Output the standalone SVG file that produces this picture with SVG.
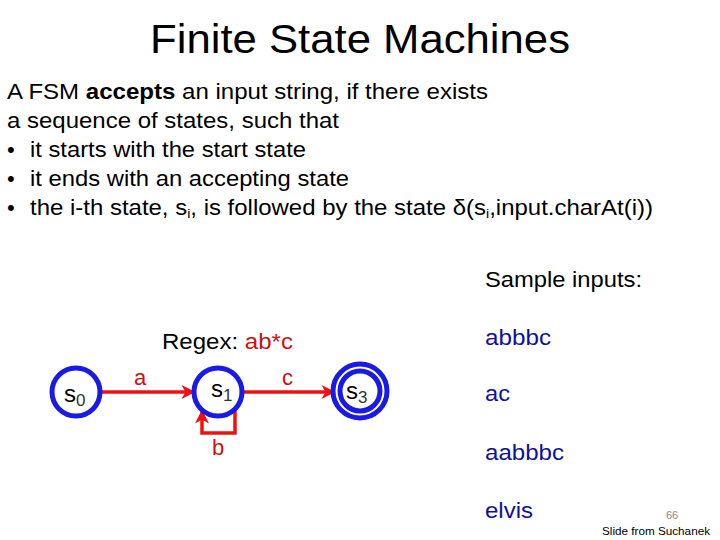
<svg xmlns="http://www.w3.org/2000/svg" width="720" height="540" viewBox="0 0 720 540">
<style>
text{font-family:"Liberation Sans",Arial,sans-serif;fill:#000}
.body{font-size:22px}
.red{fill:#cc1111}
.lbl{font-size:22px;fill:#cc1111}
.inp{font-size:22px;fill:#10109a}
.st{fill:#fff;stroke:#1a1ae6;stroke-width:5}
.sn{font-size:24px}
.sub{font-size:17px;fill:#333}
.edge{stroke:#ee1111;stroke-width:3.5;fill:none}
</style>
<defs>
<marker id="ah" viewBox="0 0 10 10" refX="9" refY="5" markerWidth="4" markerHeight="4" orient="auto" markerUnits="strokeWidth">
<path d="M0,0 L10,5 L0,10 L3,5 z" fill="#ee1111"/>
</marker>
</defs>
<rect width="720" height="540" fill="#fff"/>
<text x="150" y="53" font-size="41" textLength="420" lengthAdjust="spacingAndGlyphs">Finite State Machines</text>
<text class="body" x="7" y="99" textLength="481" lengthAdjust="spacingAndGlyphs">A FSM <tspan font-weight="bold">accepts</tspan> an input string, if there exists</text>
<text class="body" x="7" y="128" textLength="332" lengthAdjust="spacingAndGlyphs">a sequence of states, such that</text>
<text class="body" x="7" y="157">•</text>
<text class="body" x="30" y="157" textLength="276" lengthAdjust="spacingAndGlyphs">it starts with the start state</text>
<text class="body" x="7" y="186">•</text>
<text class="body" x="30" y="186" textLength="319" lengthAdjust="spacingAndGlyphs">it ends with an accepting state</text>
<text class="body" x="7" y="215">•</text>
<text class="body" x="30" y="215" textLength="623" lengthAdjust="spacingAndGlyphs">the i-th state, s<tspan font-size="13" dy="3">i</tspan><tspan dy="-3">, is followed by the state δ(s</tspan><tspan font-size="13" dy="3">i</tspan><tspan dy="-3">,input.charAt(i))</tspan></text>
<text class="body" x="485" y="287" textLength="157" lengthAdjust="spacingAndGlyphs">Sample inputs:</text>
<text class="body" x="162" y="349" textLength="131" lengthAdjust="spacingAndGlyphs">Regex: <tspan class="red">ab*c</tspan></text>
<g id="inputs">
<text class="inp" x="485" y="345" textLength="66" lengthAdjust="spacingAndGlyphs">abbbc</text>
<text class="inp" x="485" y="401" textLength="25" lengthAdjust="spacingAndGlyphs">ac</text>
<text class="inp" x="485" y="460" textLength="79" lengthAdjust="spacingAndGlyphs">aabbbc</text>
<text class="inp" x="485" y="518" textLength="48" lengthAdjust="spacingAndGlyphs">elvis</text>
</g>
<g id="connectors">
<g id="e-a"><path class="edge" d="M101,392 L194,392" marker-end="url(#ah)"/><text class="lbl" x="134" y="385">a</text></g>
<g id="e-c"><path class="edge" d="M243,392 L334,392" marker-end="url(#ah)"/><text class="lbl" x="282" y="385">c</text></g>
<g id="e-b"><path class="edge" d="M235,407 L235,433 L202,433 L202,411" marker-end="url(#ah)"/><text class="lbl" x="212" y="455">b</text></g>
</g>
<g id="s0"><circle class="st" cx="76" cy="392" r="24"/><text class="sn" x="64" y="402">s<tspan class="sub" dy="4">0</tspan></text></g>
<g id="s1"><circle class="st" cx="218" cy="392" r="24"/><text class="sn" x="211" y="397">s<tspan class="sub" dy="4">1</tspan></text></g>
<g id="s3"><circle class="st" cx="360" cy="391" r="27"/><circle class="st" cx="360" cy="391" r="20" stroke-width="3"/><text class="sn" x="346" y="399">s<tspan class="sub" dy="4">3</tspan></text></g>
<text x="666" y="519" font-size="11" style="fill:#888">66</text>
<text x="602" y="535" font-size="11" textLength="108" lengthAdjust="spacingAndGlyphs">Slide from Suchanek</text>
</svg>
